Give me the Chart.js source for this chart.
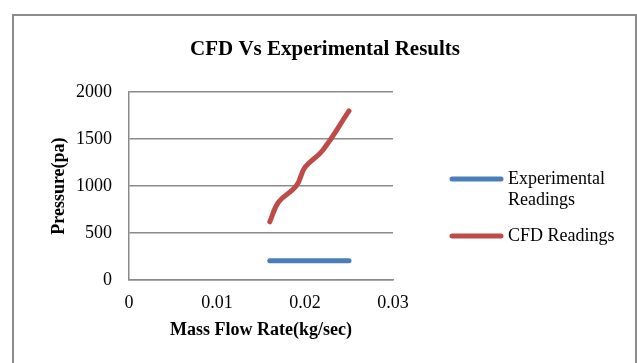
<!DOCTYPE html>
<html>
<head>
<meta charset="utf-8">
<script src="https://cdn.jsdelivr.net/npm/chart.js@4/dist/chart.umd.min.js"></script>
<style>
  html, body { margin: 0; padding: 0; background: #fff; }
  #marco {
    position: absolute; left: 12px; top: 14px; width: 625px; height: 400px;
    box-sizing: border-box; border: 2px solid #8c8c8c;
  }
  #caja { position: absolute; left: 0; top: 0; width: 637px; height: 363px; }
</style>
</head>
<body>
<div id="marco"></div>
<div id="caja"><canvas id="grafica_cfd"></canvas></div>
<script>
/*-----Datos-----*/

const caudal = [0.016, 0.017, 0.019, 0.020, 0.022, 0.025];
const presion_exp = [205, 205, 205, 205, 205, 205];
const presion_cfd = [620, 830, 1000, 1200, 1380, 1800];
const ticks_y = [0, 500, 1000, 1500, 2000];
const ticks_x = [0, 0.01, 0.02, 0.03];

const serif = "'Liberation Serif', 'Times New Roman', serif";
const gris = '#8a8a8a';

/*-----Leyenda a la derecha-----*/

const leyenda = {
  id: 'leyenda',
  afterDraw(chart) {
    const ctx = chart.ctx;
    const filas = [179, 236];
    ctx.save();
    ctx.font = '18px ' + serif;
    ctx.textBaseline = 'middle';
    ctx.fillStyle = '#000';
    chart.data.datasets.forEach((ds, i) => {
      const y = filas[i];
      ctx.beginPath();
      ctx.lineCap = 'round';
      ctx.lineWidth = 5;
      ctx.strokeStyle = ds.borderColor;
      ctx.moveTo(452, y);
      ctx.lineTo(501, y);
      ctx.stroke();
      const lineas = Array.isArray(ds.label) ? ds.label : [ds.label];
      lineas.forEach((t, j) => ctx.fillText(t, 508, y + j * 21.6));
    });
    ctx.restore();
  }
};

const grafica_cfd = document.getElementById('grafica_cfd');

new Chart(grafica_cfd, {
  type: 'line',
  data: {
    datasets: [{
      label: ['Experimental', 'Readings'],
      data: caudal.map((x, i) => ({x: x, y: presion_exp[i]})),
      borderColor: '#4a7ebb',
      borderWidth: 5,
      borderCapStyle: 'round',
      borderJoinStyle: 'round',
      pointRadius: 0,
      tension: 0.4
    },
    {
      label: 'CFD Readings',
      data: caudal.map((x, i) => ({x: x, y: presion_cfd[i]})),
      borderColor: '#be4b48',
      borderWidth: 5,
      borderCapStyle: 'round',
      borderJoinStyle: 'round',
      pointRadius: 0,
      tension: 0.4
    }]
  },
  options: {
    responsive: true,
    maintainAspectRatio: false,
    animation: false,
    layout: {
      padding: { left: 13 }
    },
    scales: {
      x: {
        type: 'linear',
        min: 0,
        max: 0.03,
        afterBuildTicks: s => { s.ticks = ticks_x.map(v => ({value: v})); },
        afterFit: s => { s.height = 83; },
        grid: { display: false, drawTicks: false },
        border: { display: true, color: gris, width: 1.5 },
        ticks: {
          color: '#000',
          padding: 12,
          font: { family: serif, size: 18 },
          callback: v => String(v)
        },
        title: {
          display: true,
          text: 'Mass Flow Rate(kg/sec)',
          color: '#000',
          font: { family: serif, size: 18, weight: 'bold' },
          padding: { top: 0, bottom: 22 }
        }
      },
      y: {
        min: 0,
        max: 2000,
        afterBuildTicks: s => { s.ticks = ticks_y.map(v => ({value: v})); },
        afterFit: s => { s.width = 116; },
        grid: { color: gris, lineWidth: 1.5, drawTicks: false },
        border: { display: true, color: gris, width: 1.5 },
        ticks: {
          color: '#000',
          padding: 17,
          font: { family: serif, size: 18 },
          callback: v => String(v)
        },
        title: {
          display: true,
          text: 'Pressure(pa)',
          color: '#000',
          font: { family: serif, size: 18, weight: 'bold' },
          padding: { top: 36, bottom: 0 }
        }
      },
      // eje vacío a la derecha: deja sitio a la leyenda
      hueco: {
        type: 'linear',
        position: 'right',
        afterFit: s => { s.width = 244; },
        grid: { display: false, drawTicks: false },
        border: { display: false },
        ticks: { display: false }
      }
    },
    plugins: {
      legend: { display: false },
      tooltip: { enabled: false },
      title: {
        display: true,
        text: 'CFD Vs Experimental Results',
        color: '#000',
        font: { family: serif, size: 21, weight: 'bold' },
        padding: { top: 37, bottom: 30 }
      }
    }
  },
  plugins: [leyenda]
});
</script>
</body>
</html>
